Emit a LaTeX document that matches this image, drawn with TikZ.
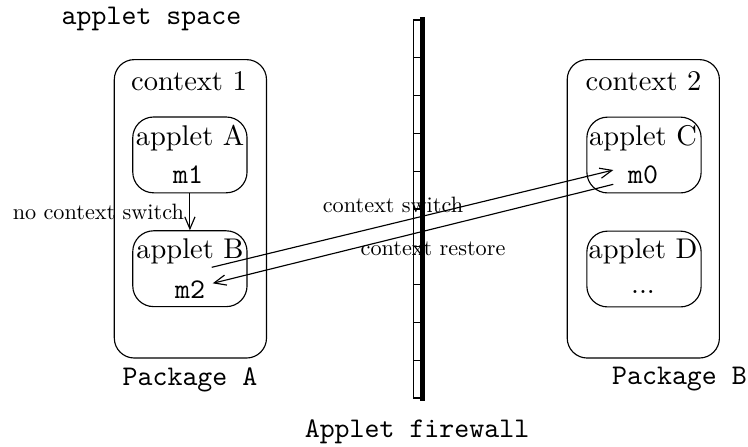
\documentclass[tikz,border=0pt]{standalone}
\usetikzlibrary{arrows.meta}
\begin{document}
\begin{tikzpicture}[x=0.35088pt,y=-0.35088pt,
  ctxbox/.style={draw, rounded corners=7pt, inner sep=0pt, minimum width=53.4pt, minimum height=104.7pt},
  appbox/.style={draw, rounded corners=7.3pt, inner sep=0pt, minimum width=40.1pt, minimum height=26.6pt},
  txt/.style={inner sep=0pt},
  tt/.style={inner sep=0pt, font=\ttfamily},
  lbl/.style={inner sep=0pt, scale=0.78},
  tip/.style={-{Straight Barb[length=4.2pt,width=3.6pt]}},
  fwall/.style={draw, inner sep=0pt, minimum width=2.95pt, minimum height=132.6pt}]
\useasboundingbox (0,0) rectangle (748,446);
% contexts
\node[ctxbox] (c1) at (190.4,208.8) {};
\node[ctxbox] (c2) at (643.3,208.8) {};
\node[appbox] (aA) at (189.9,154.9) {};
\node[appbox] (aB) at (189.9,268.7) {};
\node[appbox] (aC) at (644.0,155.0) {};
\node[appbox] (aD) at (644.0,269.0) {};
% texts
\node[tt] (space) at (151.5,19) {applet space};
\node[txt] (t1) at (189,81) {context 1};
\node[txt] (t2) at (643.5,81) {context 2};
\node[txt] (tA) at (190,138.5) {applet A};
\node[tt] (m1) at (188,175) {m1};
\node[txt] (tB) at (190,251.5) {applet B};
\node[tt] (m2) at (190,289.5) {m2};
\node[txt] (tC) at (643,138.5) {applet C};
\node[tt] (m0) at (643,175) {m0};
\node[txt] (tD) at (643,251.5) {applet D};
\node[txt,anchor=base] (dots) at (643,293.5) {...};
\node[tt] (pA) at (190,379.5) {Package A};
\node[tt] (pB) at (679.5,379.5) {Package B};
\node[tt] (fwl) at (417,431.5) {Applet firewall};
% firewall
\node[fwall] (fw) at (417.5,209) {};
\draw[line width=1.6pt, line cap=rect] (fw.north east) -- (fw.south east);
\foreach \k in {1,...,9} {
  \draw (413.3,{20+37.8*\k}) -- (421.7,{20+37.8*\k});
}
% arrows
\draw[tip] (aA.south) -- node[lbl, left=2.5pt] (nl) {no context switch} (aB.north);
\coordinate (s1) at (211.7,267.3);
\coordinate (s2) at (613.3,170);
\coordinate (r1) at (613.3,184.3);
\coordinate (r2) at (212.7,283.3);
\draw[tip] (s1) -- (s2);
\draw[tip] (r1) -- (r2);
\node[lbl] (ls) at (393,205) {context switch};
\node[lbl] (lr) at (433,249) {context restore};
\end{tikzpicture}
\end{document}
